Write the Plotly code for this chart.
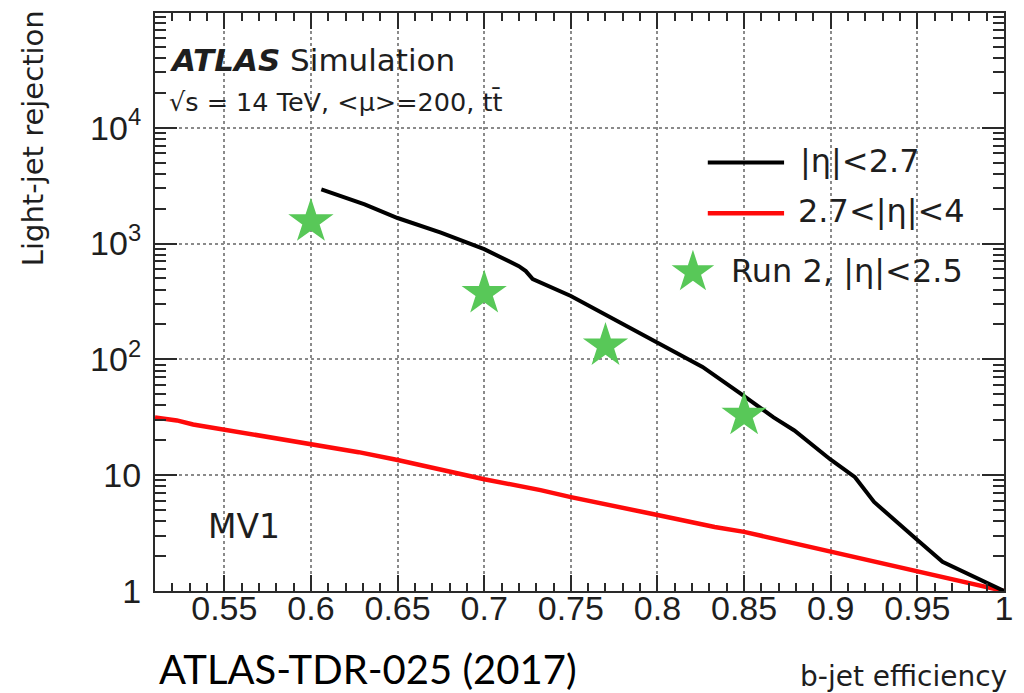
import numpy as np
import plotly.graph_objects as go

# ---- data -----------------------------------------------------------------
# |eta| < 2.7 (black curve)
eff_central = [0.606, 0.631, 0.650, 0.675, 0.700, 0.720, 0.724, 0.728, 0.750,
               0.800, 0.826, 0.848, 0.867, 0.879, 0.900, 0.914, 0.925, 0.950,
               0.9645, 1.000]
rej_central = [2930, 2180, 1660, 1240, 893, 638, 578, 493, 352,
               139, 86, 50.6, 31.5, 24.3, 13.6, 9.6, 5.87, 2.76,
               1.79, 1.0]

# 2.7 < |eta| < 4 (red curve)
eff_forward = [0.510, 0.5226, 0.532, 0.550, 0.600, 0.6275, 0.650, 0.668, 0.700,
               0.7325, 0.750, 0.800, 0.833, 0.850, 0.879, 0.900, 0.950, 1.000]
rej_forward = [31.5, 29.7, 27.4, 24.8, 18.8, 15.8, 13.5, 11.7, 9.23,
               7.43, 6.47, 4.53, 3.57, 3.24, 2.58, 2.17, 1.48, 1.0]

# Run 2 working points, |eta| < 2.5 (green stars)
eff_run2 = [0.60, 0.70, 0.77, 0.85]
rej_run2 = [1545, 372, 131, 33]

x_ticks = [0.55, 0.60, 0.65, 0.70, 0.75, 0.80, 0.85, 0.90, 0.95, 1.00]
x_ticktext = ["0.55", "0.6", "0.65", "0.7", "0.75", "0.8", "0.85", "0.9", "0.95", "1"]
y_ticks = [1, 10, 100, 1000, 10000]
y_ticktext = ["1", "10", "10<sup>2</sup>", "10<sup>3</sup>", "10<sup>4</sup>"]

legend_labels = ["|η|<2.7", "2.7<|η|<4", "Run 2, |η|<2.5"]

# ---- styling --------------------------------------------------------------
BLACK = "#000000"
RED = "#ff0a0a"
GREEN = "#58c858"
GRID = "#8a8a8a"
FRAME = "#2a2a2a"
TXT = "#1e1e1e"
ROOT_FONT = "DejaVu Sans"
TICK_FONT = "Liberation Sans"

W, H = 1024, 693
ML, MR, MT, MB = 155, 12, 11, 102
PW, PH = W - ML - MR, H - MT - MB


def px(xp):
    """pixel column -> paper x"""
    return (xp - ML) / PW


def py(yp):
    """pixel row -> paper y"""
    return (H - MB - yp) / PH


fig = go.Figure()

fig.add_trace(go.Scatter(x=eff_forward, y=rej_forward, mode="lines",
                         line=dict(color=RED, width=4.5), name=legend_labels[1]))
fig.add_trace(go.Scatter(x=eff_central, y=rej_central, mode="lines",
                         line=dict(color=BLACK, width=4), name=legend_labels[0]))
fig.add_trace(go.Scatter(x=eff_run2, y=rej_run2, mode="markers",
                         marker=dict(symbol="star", size=34, color=GREEN,
                                     line=dict(width=0)),
                         name=legend_labels[2]))

# legend key star, drawn on an overlay axis spanning the plot area in [0, 1]
fig.add_trace(go.Scatter(x=[px(698)], y=[py(271)], mode="markers",
                         xaxis="x2", yaxis="y2",
                         marker=dict(symbol="star", size=32, color=GREEN,
                                     line=dict(width=0)),
                         hoverinfo="skip"))

# minor ticks on the log axis: 2..9 in every decade
y_minor = [m * 10 ** d for d in range(0, 5) for m in range(2, 10)]

fig.update_layout(
    width=W, height=H,
    margin=dict(l=ML, r=MR, t=MT, b=MB, pad=0),
    paper_bgcolor="white", plot_bgcolor="white",
    showlegend=False,
    xaxis=dict(
        range=[0.51, 1.0], tickmode="array", tickvals=x_ticks, ticktext=x_ticktext,
        ticks="inside", ticklen=16, tickwidth=2, tickcolor=FRAME,
        showline=True, linecolor=FRAME, linewidth=2, mirror="allticks",
        showgrid=True, gridcolor=GRID, gridwidth=1.5, griddash="dot",
        zeroline=False,
        minor=dict(ticks="inside", ticklen=8, tickwidth=2, tickcolor=FRAME,
                   tick0=0.5, dtick=0.01, showgrid=False),
        tickfont=dict(family=TICK_FONT, size=34, color=TXT),
        ticklabelstandoff=-14,
    ),
    yaxis=dict(
        type="log", range=[0, 4.99], tickmode="array", tickvals=y_ticks,
        ticktext=y_ticktext,
        ticks="inside", ticklen=22, tickwidth=2, tickcolor=FRAME,
        showline=True, linecolor=FRAME, linewidth=2, mirror="allticks",
        showgrid=True, gridcolor=GRID, gridwidth=1.5, griddash="dot",
        zeroline=False,
        minor=dict(ticks="inside", ticklen=11, tickwidth=2, tickcolor=FRAME,
                   tickmode="array", tickvals=y_minor, showgrid=False),
        tickfont=dict(family=TICK_FONT, size=34, color=TXT),
        ticklabelstandoff=5,
    ),
    xaxis2=dict(range=[0, 1], overlaying="x", visible=False, fixedrange=True),
    yaxis2=dict(range=[0, 1], overlaying="y", visible=False, fixedrange=True),
)

# legend key lines
fig.add_shape(type="line", xref="paper", yref="paper",
              x0=px(713), x1=px(790), y0=py(161), y1=py(161),
              line=dict(color=BLACK, width=4))
fig.add_shape(type="line", xref="paper", yref="paper",
              x0=px(713), x1=px(790), y0=py(212), y1=py(212),
              line=dict(color=RED, width=4.5))

annotations = [
    # legend labels
    dict(x=px(804), y=py(160), text=legend_labels[0], size=32, xanchor="left"),
    dict(x=px(802), y=py(210), text=legend_labels[1], size=32, xanchor="left"),
    dict(x=px(734), y=py(270), text=legend_labels[2], size=32, xanchor="left"),
    # header
    dict(x=px(167), y=py(58), text="<b><i>ATLAS</i></b> Simulation", size=31,
         xanchor="left"),
    dict(x=px(167), y=py(100), text="√s = 14 TeV, <μ>=200, tt̄", size=25.5,
         xanchor="left"),
    dict(x=px(206), y=py(526), text="MV1", size=33, xanchor="left"),
    # axis titles
    dict(x=px(1017), y=py(677), text="b-jet efficiency", size=28, xanchor="right"),
]
for a in annotations:
    fig.add_annotation(x=a["x"], y=a["y"], xref="paper", yref="paper",
                       text=a["text"], showarrow=False, xanchor=a["xanchor"],
                       yanchor="middle",
                       font=dict(family=ROOT_FONT, size=a["size"], color=TXT))

fig.add_annotation(x=px(32), y=py(6), xref="paper", yref="paper",
                   text="Light-jet rejection", textangle=-90, showarrow=False,
                   xanchor="center", yanchor="top",
                   font=dict(family=ROOT_FONT, size=29, color=TXT))

fig.add_annotation(x=px(157), y=py(669), xref="paper", yref="paper",
                   text="ATLAS-TDR-025 (2017)", showarrow=False,
                   xanchor="left", yanchor="middle",
                   font=dict(family="Lato", size=40, color="#000000"))

fig.write_html("out.html")
